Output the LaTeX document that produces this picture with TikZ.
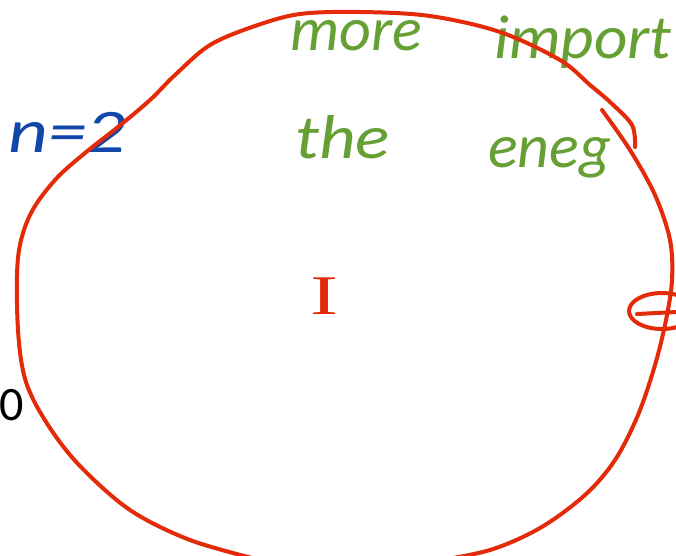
\documentclass[tikz,border=0pt]{standalone}
\usepackage{fontspec}
\setmainfont{Carlito}
\newfontfamily\handfont{Carlito}
\newfontfamily\seriffont{Liberation Serif}
\definecolor{inkred}{HTML}{E32B0A}
\definecolor{inkgreen}{HTML}{66A035}
\definecolor{inkblue}{HTML}{1246A8}
\begin{document}
\begin{tikzpicture}[x=1pt,y=-1pt,
  redink/.style={draw=inkred,line width=4pt,line cap=round,line join=round},
  greentext/.style={inkgreen,anchor=base west,inner sep=0pt,font=\handfont\itshape\fontsize{62}{64}\selectfont},
  bluetext/.style={inkblue,anchor=base west,inner sep=0pt,xscale=1.25,font=\handfont\itshape\fontsize{62}{64}\selectfont},
  redtext/.style={inkred,anchor=base west,inner sep=0pt,xscale=1.5,font=\seriffont\fontsize{56}{58}\selectfont}]
\useasboundingbox (0,0) rectangle (676,555);
\clip (0,0) rectangle (676,555);
\fill[white] (0,0) rectangle (676,555);
% green handwriting
\node[greentext] (more) at (290,50) {more};
\node[greentext,xscale=1.05] (import) at (494,58) {import};
\node[greentext,xscale=1.15] (the) at (295,158) {the};
\node[greentext] (eneg) at (488,167) {eneg};
% blue
\node[bluetext] (n2) at (8,152) {n=2};
% red I
\node[redtext] (curr) at (310,314) {I};
% black 0
\node[anchor=base west,inner sep=0pt,font=\fontsize{48}{50}\selectfont] (zero) at (-1,420) {0};
% big red loop, first stroke
\draw[redink] plot[smooth,tension=0.55] coordinates {
 (635,147) (632,125) (610,102) (590,85) (560,60) (500,32) (430,16) (360,12) (300,14) (255,26)
 (210,45) (175,75) (150,100) (118,127) (85,153) (55,180) (30,215) (18,258) (18,330) (26,382)
 (48,425) (80,466) (130,510) (190,540) (260,560)};
% second stroke
\draw[redink] plot[smooth,tension=0.55] coordinates {
 (602,110) (630,150) (655,195) (670,240) (672,280) (666,320) (655,365) (638,415) (615,460)
 (585,495) (540,528) (490,550) (430,562)};
% theta-like mark on right
\draw[redink] (662,311) ellipse [x radius=33, y radius=18];
\draw[redink] (637,314) -- (676,312);
\end{tikzpicture}
\end{document}
